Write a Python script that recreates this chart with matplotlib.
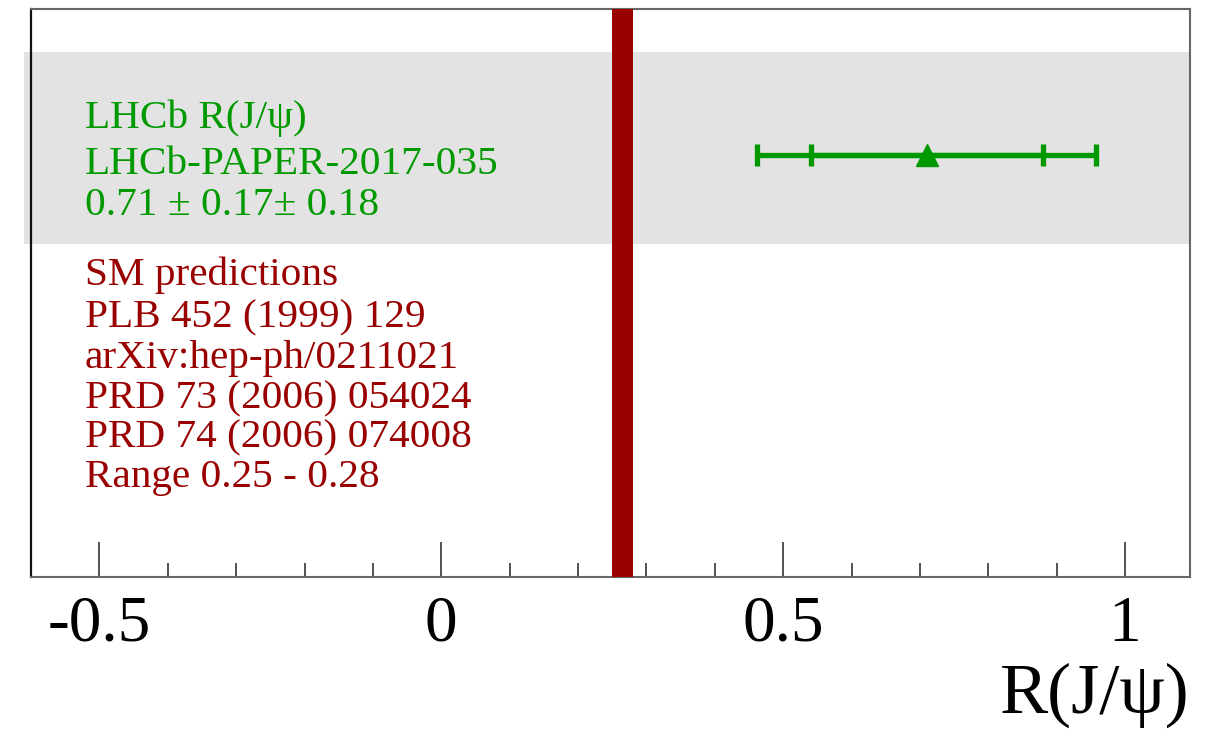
import numpy as np
import matplotlib
matplotlib.use("Agg")
import matplotlib.pyplot as plt
from matplotlib.ticker import MultipleLocator, FuncFormatter

# ---- data ----
lhcb_value = 0.71
lhcb_stat = 0.17
lhcb_syst = 0.18
sm_low = 0.25
sm_high = 0.28
green_lines = ["LHCb R(J/\u03c8)", "LHCb-PAPER-2017-035", "0.71 \u00b1 0.17\u00b1 0.18"]
red_lines = ["SM predictions", "PLB 452 (1999) 129", "arXiv:hep-ph/0211021",
             "PRD 73 (2006) 054024", "PRD 74 (2006) 074008", "Range 0.25 - 0.28"]
xlabel = "R(J/\u03c8)"

GREEN = "#009a00"
RED = "#990000"
plt.rcParams['font.family'] = ['Liberation Serif', 'DejaVu Serif']

fig = plt.figure(figsize=(12.31, 7.5), dpi=100)
ax = fig.add_axes([31/1231, 173/750, 1159/1231, 568/750])
ax.set_xlim(-0.6, 1.095)
ax.set_ylim(0, 1)

def yfrac(p):
    return (577 - p) / 568.0

# gray band
ax.axhspan(yfrac(244), yfrac(52), xmin=-0.006, xmax=1.0, color="#e3e3e3", lw=0, zorder=0, clip_on=False)

# SM band
ax.axvspan(sm_low, sm_high, color=RED, lw=0, zorder=3)

# LHCb measurement
total = np.sqrt(lhcb_stat**2 + lhcb_syst**2)
yp = yfrac(155)
ax.errorbar([lhcb_value], [yp], xerr=[[total], [total]], fmt='none', ecolor=GREEN,
            elinewidth=3.8, capsize=8, capthick=3.8, zorder=4)
ax.errorbar([lhcb_value], [yp], xerr=[[lhcb_stat], [lhcb_stat]], fmt='^', color=GREEN,
            ms=16, elinewidth=3.8, capsize=8, capthick=3.8, zorder=5)

# texts
xt = (85 - 31) / 1159.0
for line, p in zip(green_lines, [128, 174, 215]):
    ax.text(xt, yfrac(p), line, transform=ax.transAxes, color=GREEN, fontsize=29.7, va='baseline', ha='left')
for line, p in zip(red_lines, [285, 327, 368, 408, 447, 487]):
    ax.text(xt, yfrac(p), line, transform=ax.transAxes, color=RED, fontsize=29.7, va='baseline', ha='left')

# axes styling
ax.set_yticks([])
ax.xaxis.set_major_locator(MultipleLocator(0.5))
ax.xaxis.set_minor_locator(MultipleLocator(0.1))
ax.tick_params(axis='x', which='major', direction='in', length=25, width=1.2, color='#333333',
               labelsize=47, pad=13, top=False)
ax.tick_params(axis='x', which='minor', direction='in', length=10, width=1.2, color='#333333', top=False)
ax.xaxis.set_major_formatter(FuncFormatter(lambda v, pos: ("%g" % v) if abs(v) > 1e-9 else "0"))
for s in ['left']:
    ax.spines[s].set_color('#111111')
    ax.spines[s].set_linewidth(1.6)
for s in ['right', 'bottom', 'top']:
    ax.spines[s].set_color('#666666')
    ax.spines[s].set_linewidth(1.5)

fig.text(1190/1231, 1 - 695/750, xlabel, fontsize=52, ha='right', va='center')

fig.savefig("out.png", dpi=100)
